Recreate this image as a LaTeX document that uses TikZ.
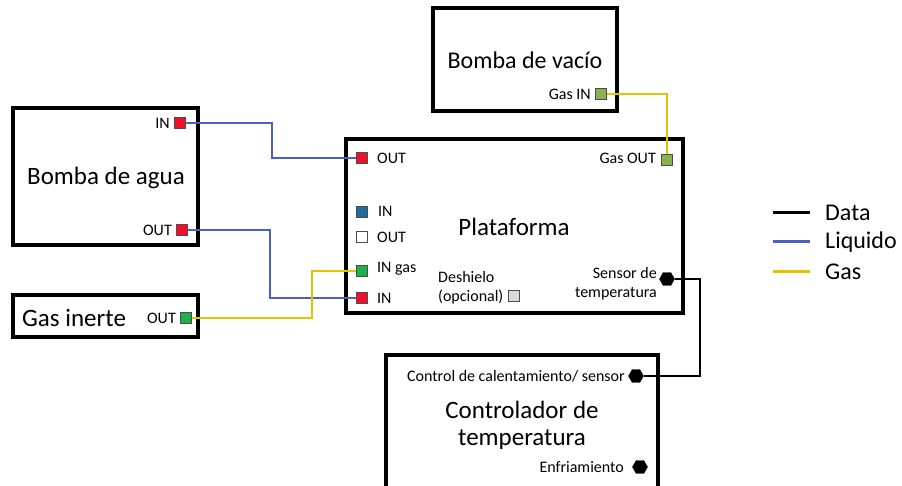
\documentclass[tikz,border=0pt]{standalone}
\usepackage{fontspec}
\setmainfont{Carlito}
\usetikzlibrary{shapes.geometric}
\definecolor{pred}{HTML}{F0102A}
\definecolor{pgreen}{HTML}{1DB04B}
\definecolor{polive}{HTML}{8CB050}
\definecolor{pteal}{HTML}{1E6FA0}
\definecolor{liqc}{HTML}{4A5FC0}
\definecolor{gasc}{HTML}{E2C400}
\tikzset{
  box/.style={draw=black, line width=3.5pt, fill=white, inner sep=0pt},
  title/.style={font=\fontsize{25}{30}\selectfont, align=center, inner sep=0pt},
  plabel/.style={font=\fontsize{16}{18}\selectfont, inner sep=0pt},
  slabel/.style={font=\fontsize{16}{19}\selectfont, inner sep=0pt},
  port/.style={rectangle, minimum size=11pt, inner sep=0pt, draw=black!70, line width=0.9pt},
  hexport/.style={regular polygon, regular polygon sides=6, fill=black, draw=black, minimum size=15pt, inner sep=0pt},
  liq/.style={draw=liqc, line width=2.2pt},
  gas/.style={draw=gasc, line width=2.2pt},
  data/.style={draw=black, line width=2.5pt},
  leg/.style={font=\fontsize{24}{28}\selectfont, anchor=west, inner sep=0pt},
}
\begin{document}
\begin{tikzpicture}[x=1pt,y=-1pt]
\useasboundingbox (0,0) rectangle (902,486);
\clip (0,0) rectangle (902,486);

% boxes
\node[box, minimum width=184pt, minimum height=103pt] (vac) at (525,59.5) {};
\node[box, minimum width=337pt, minimum height=174pt] (plat) at (514.5,226) {};
\node[box, minimum width=185pt, minimum height=137pt] (agua) at (105.5,176.5) {};
\node[box, minimum width=185pt, minimum height=42pt] (inerte) at (105.5,316) {};
\node[box, minimum width=272pt, minimum height=150pt] (ctrl) at (522,430) {};

% titles
\node[title, font=\fontsize{24}{28}\selectfont] (tvac) at (525,60) {Bomba de vacío};
\node[title] (tplat) at (514,227) {Plataforma};
\node[title] (tagua) at (106,178) {Bomba de agua};
\node[title, anchor=west] (tinerte) at (22,318) {Gas inerte};
\node[title] (tctrl1) at (522,410) {Controlador de};
\node[title] (tctrl2) at (522,440) {temperatura};

% ports: Bomba de vacio
\node[port, fill=polive] (vacIN) at (601,94) {};
\node[plabel, anchor=east] (lvacIN) at (591,94) {Gas IN};

% ports: Bomba de agua
\node[port, fill=pred] (aguaIN) at (180,123) {};
\node[plabel, anchor=east] (laguaIN) at (170,123) {IN};
\node[port, fill=pred] (aguaOUT) at (182,230) {};
\node[plabel, anchor=east] (laguaOUT) at (172,230) {OUT};

% ports: Gas inerte
\node[port, fill=pgreen] (inerteOUT) at (186,318) {};
\node[plabel, anchor=east] (linerteOUT) at (176,318) {OUT};

% ports: Plataforma
\node[port, fill=pred] (pOUT) at (361.5,158) {};
\node[plabel, anchor=west] (lpOUT) at (377,158) {OUT};
\node[port, fill=polive] (pGasOUT) at (667,160) {};
\node[plabel, anchor=east] (lpGasOUT) at (656,158) {Gas OUT};
\node[port, fill=pteal] (pIN2) at (361.5,212) {};
\node[plabel, anchor=west] (lpIN2) at (378,211) {IN};
\node[port, fill=white] (pOUT2) at (361.5,237) {};
\node[plabel, anchor=west] (lpOUT2) at (377,237) {OUT};
\node[port, fill=pgreen] (pINgas) at (361.5,271) {};
\node[plabel, anchor=west] (lpINgas) at (377,269) {IN gas};
\node[port, fill=pred] (pIN) at (361.5,298) {};
\node[plabel, anchor=west] (lpIN) at (377,298) {IN};
\node[slabel, align=left, anchor=west] (ldesh) at (438,288) {Deshielo\\(opcional)};
\node[port, fill=white!85!black] (pDesh) at (514,296) {};
\node[slabel, align=right, anchor=east] (lsensor) at (657,284) {Sensor de\\temperatura};
\node[hexport] (pSensor) at (667,279) {};

% ports: Controlador
\node[hexport] (cCtrl) at (636,376) {};
\node[slabel, anchor=east] (lcCtrl) at (625,376) {Control de calentamiento/ sensor};
\node[hexport] (cEnf) at (640,467) {};
\node[slabel, anchor=east] (lcEnf) at (624,467) {Enfriamiento};

% junction coordinates
\coordinate (j1) at (272,0);
\coordinate (j2) at (270,0);
\coordinate (j3) at (312,0);
\coordinate (j4) at (700,0);

% connectors
\draw[liq] (aguaIN.east) -- (aguaIN.east -| j1) -- (pOUT.west -| j1) -- (pOUT.west);
\draw[liq] (aguaOUT.east) -- (aguaOUT.east -| j2) -- (pIN.west -| j2) -- (pIN.west);
\draw[gas] (inerteOUT.east) -- (inerteOUT.east -| j3) -- (pINgas.west -| j3) -- (pINgas.west);
\draw[gas] (vacIN.east) -- (vacIN.east -| pGasOUT) -- (pGasOUT.north);
\draw[data] (pSensor.east) -- (pSensor.east -| j4) -- (cCtrl.east -| j4) -- (cCtrl.east);

% legend
\coordinate (d1) at (773,213);
\coordinate (d2) at (810,213);
\coordinate (l1) at (773,242);
\coordinate (l2) at (810,242);
\coordinate (g1) at (773,272);
\coordinate (g2) at (810,272);
\draw[data, line width=3pt] (d1) -- (d2);
\draw[liq, line width=3pt] (l1) -- (l2);
\draw[gas, line width=3pt] (g1) -- (g2);
\node[leg] (ldata) at (825,213) {Data};
\node[leg] (lliq) at (825,242) {Liquido};
\node[leg] (lgas) at (825,272) {Gas};
\end{tikzpicture}
\end{document}
